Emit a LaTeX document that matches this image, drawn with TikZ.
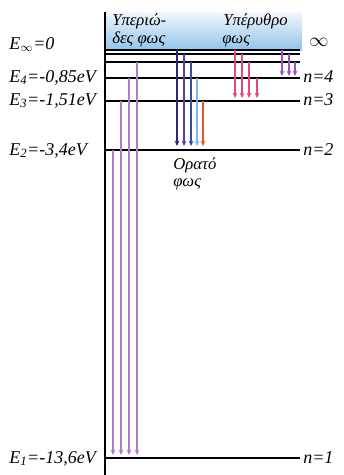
\documentclass[tikz,border=0pt]{standalone}
\usepackage{fontspec}
\setmainfont{Liberation Serif}
\usepackage{tikz}
\usetikzlibrary{arrows.meta}
\definecolor{bandtop}{HTML}{F2F7FC}
\definecolor{bandbot}{HTML}{92C3EA}
\definecolor{lyman}{HTML}{B57BCB}
\definecolor{paschen}{HTML}{DE4A82}
\definecolor{brackett}{HTML}{9B55BD}
\definecolor{bnavy}{HTML}{2C2A6E}
\definecolor{bviolet}{HTML}{5B4399}
\definecolor{bblue}{HTML}{3A4BA6}
\definecolor{bsky}{HTML}{82B5E6}
\definecolor{bred}{HTML}{E0582C}

\begin{document}
\begin{tikzpicture}[x=0.75pt,y=-0.75pt,
    level/.style={line width=1pt},
    trans/.style={line width=1.1pt,-{Stealth[length=4pt,width=3.6pt]}},
    elab/.style={font=\fontsize{13.5}{15}\selectfont\itshape,anchor=base west,inner sep=0pt},
    glab/.style={font=\fontsize{12.5}{14}\selectfont\itshape,anchor=base west,inner sep=0pt}]
  \useasboundingbox (0,0) rectangle (343,475);
  % band of the unbound states
  \shade[top color=bandtop,bottom color=bandbot] (105,12) rectangle (302,50);
  \draw[line width=0.8pt] (105,12) -- (105,475);
  % levels: infinity, n=6, n=5, n=4, n=3, n=2, n=1
  \draw[line width=1.3pt] (105,50) -- (300,50);
  \foreach \y in {54,62,78,101,150,458}
    \draw[level] (105,\y) -- (300,\y);
  % energies
  \node[elab] (einf) at (9,49) {E\textsubscript{$\infty$}=0};
  \node[elab] (e4) at (9,82) {E\textsubscript{4}=-0,85eV};
  \node[elab] (e3) at (9,105) {E\textsubscript{3}=-1,51eV};
  \node[elab] (e2) at (9,155) {E\textsubscript{2}=-3,4eV};
  \node[elab] (e1) at (9,463) {E\textsubscript{1}=-13,6eV};
  \node[elab] (ninf) at (309,46) {$\infty$};
  \node[elab] (n4) at (303,82) {n=4};
  \node[elab] (n3) at (303,105) {n=3};
  \node[elab] (n2) at (303,155) {n=2};
  \node[elab] (n1) at (303,463) {n=1};
  % x / from / to / colour
  \foreach \x/\a/\b/\c in {113/150/455/lyman, 121/101/455/lyman, 129/78/455/lyman, 137/62/455/lyman,
      177/50/146/bnavy, 184/54/146/bviolet, 191/62/146/bblue, 197/78/146/bsky, 203/101/146/bred,
      235/50/98/paschen, 242/54/98/paschen, 249/62/98/paschen, 257/78/98/paschen,
      282/50/76/brackett, 289/54/76/brackett, 295/62/76/brackett}
    \draw[trans,\c] (\x,\a) -- (\x,\b);
  % series names
  \node[glab] (uv1) at (112,25) {Υπεριώ-};
  \node[glab] (uv2) at (112,43) {δες φως};
  \node[glab] (ir1) at (223,25) {Υπέρυθρο};
  \node[glab] (ir2) at (222,43) {φως};
  \node[glab] (vis1) at (173,169) {Ορατό};
  \node[glab] (vis2) at (173,186) {φως};
\end{tikzpicture}
\end{document}
